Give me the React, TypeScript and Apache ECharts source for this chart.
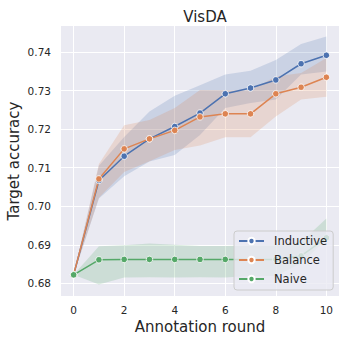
import React, { useEffect, useRef } from "react";
import * as echarts from "echarts";

const rounds = [0, 1, 2, 3, 4, 5, 6, 7, 8, 9, 10];
const xTicks = [0, 2, 4, 6, 8, 10];
const yTicks = [0.68, 0.69, 0.7, 0.71, 0.72, 0.73, 0.74];

const inductive = [0.6822, 0.7067, 0.713, 0.7175, 0.7207, 0.7242, 0.7292, 0.7307, 0.7328, 0.737, 0.7392];
const inductiveLow = [0.6822, 0.702, 0.7078, 0.7116, 0.7133, 0.7185, 0.7255, 0.7268, 0.7277, 0.7342, 0.735];
const inductiveHigh = [0.6822, 0.7105, 0.718, 0.7246, 0.7287, 0.7314, 0.7342, 0.7352, 0.738, 0.7421, 0.7441];

const balance = [0.6822, 0.7071, 0.7149, 0.7175, 0.7197, 0.7232, 0.724, 0.724, 0.7292, 0.7309, 0.7335];
const balanceLow = [0.6822, 0.7022, 0.7089, 0.7117, 0.7146, 0.7158, 0.7179, 0.7179, 0.7233, 0.7277, 0.7284];
const balanceHigh = [0.6822, 0.711, 0.721, 0.7224, 0.7255, 0.7302, 0.7301, 0.7301, 0.7337, 0.7346, 0.7385];

const naive = [0.6822, 0.6861, 0.6862, 0.6862, 0.6862, 0.6862, 0.6862, 0.6862, 0.6862, 0.6871, 0.6918];
const naiveLow = [0.6822, 0.6797, 0.6815, 0.6816, 0.6815, 0.6816, 0.6815, 0.6819, 0.6819, 0.6852, 0.6913];
const naiveHigh = [0.6822, 0.6896, 0.6899, 0.6903, 0.69, 0.6897, 0.6897, 0.6899, 0.6899, 0.6907, 0.6968];

const FONT = "DejaVu Sans";
const TEXT = "#262626";

const seriesDefs = [
  { name: "Inductive", color: "#4C72B0", band: "rgba(76,114,176,0.2)", mean: inductive, lo: inductiveLow, hi: inductiveHigh },
  { name: "Balance", color: "#DD8452", band: "rgba(221,132,82,0.2)", mean: balance, lo: balanceLow, hi: balanceHigh },
  { name: "Naive", color: "#55A868", band: "rgba(85,168,104,0.2)", mean: naive, lo: naiveLow, hi: naiveHigh },
];

export default function App() {
  const ref = useRef<HTMLDivElement>(null);
  useEffect(() => {
    if (!ref.current) return;
    const chart = echarts.init(ref.current, null, { renderer: "svg" });
    const bandSeries = seriesDefs.map((s) => ({
      name: s.name + "_band",
      type: "custom",
      silent: true,
      z: 1,
      data: [[0, s.lo[0]]],
      encode: { x: 0, y: 1 },
      renderItem: (params: any, api: any) => {
        const upper = rounds.map((x, k) => api.coord([x, s.hi[k]]));
        const lower = rounds.map((x, k) => api.coord([x, s.lo[k]])).reverse();
        return {
          type: "polygon",
          shape: { points: [...upper, ...lower] },
          style: { fill: s.band, stroke: "none" },
        };
      },
    }));
    const lineSeries = seriesDefs.map((s) => ({
      name: s.name,
      type: "line",
      data: rounds.map((x, k) => [x, s.mean[k]]),
      symbol: "circle",
      symbolSize: 6.5,
      showSymbol: true,
      itemStyle: { color: s.color, borderColor: "#ffffff", borderWidth: 0.8 },
      lineStyle: { color: s.color, width: 1.5 },
      z: 3,
    }));
    chart.setOption({
      animation: false,
      backgroundColor: "#ffffff",
      title: {
        text: "VisDA",
        left: 200,
        top: 4,
        textAlign: "center",
        textStyle: { fontFamily: FONT, fontSize: 15, fontWeight: "normal", color: TEXT },
      },
      grid: {
        left: 61,
        right: 7,
        top: 26,
        bottom: 46,
        show: true,
        backgroundColor: "#EAEAF2",
        borderWidth: 0,
        containLabel: false,
        outerBoundsMode: "none",
      },
      legend: {
        data: seriesDefs.map((s) => s.name),
        orient: "vertical",
        left: 234,
        top: 231,
        backgroundColor: "rgba(234,234,242,0.8)",
        borderColor: "#cccccc",
        borderWidth: 1,
        borderRadius: 3,
        padding: [3, 6, 4, 4],
        itemWidth: 25,
        itemHeight: 8,
        itemGap: 5,
        textStyle: { fontFamily: FONT, fontSize: 11.5, color: TEXT, lineHeight: 14, padding: [0, 0, 0, 5] },
      },
      xAxis: {
        type: "value",
        min: -0.5,
        max: 10.5,
        name: "Annotation round",
        nameLocation: "middle",
        nameGap: 23,
        nameMoveOverlap: false,
        nameTextStyle: { fontFamily: FONT, fontSize: 15, color: TEXT },
        axisLine: { show: false },
        axisTick: { show: false, customValues: xTicks },
        axisLabel: { customValues: xTicks, margin: 8, fontFamily: FONT, fontSize: 10.5, color: TEXT },
        splitLine: { show: true, lineStyle: { color: "#ffffff", width: 1 } },
      },
      yAxis: {
        type: "value",
        min: 0.6767,
        max: 0.7468,
        name: "Target accuracy",
        nameLocation: "middle",
        nameGap: 40,
        nameMoveOverlap: false,
        nameTextStyle: { fontFamily: FONT, fontSize: 15, color: TEXT },
        axisLine: { show: false },
        axisTick: { show: false, customValues: yTicks },
        axisLabel: {
          customValues: yTicks,
          margin: 10,
          fontFamily: FONT,
          fontSize: 10.5,
          color: TEXT,
          formatter: (v: number) => v.toFixed(2),
        },
        splitLine: { show: true, lineStyle: { color: "#ffffff", width: 1 } },
      },
      series: [...bandSeries, ...lineSeries],
    });
    return () => chart.dispose();
  }, []);
  return <div ref={ref} style={{ position: "fixed", left: 0, top: 0, width: 346, height: 342 }} />;
}
